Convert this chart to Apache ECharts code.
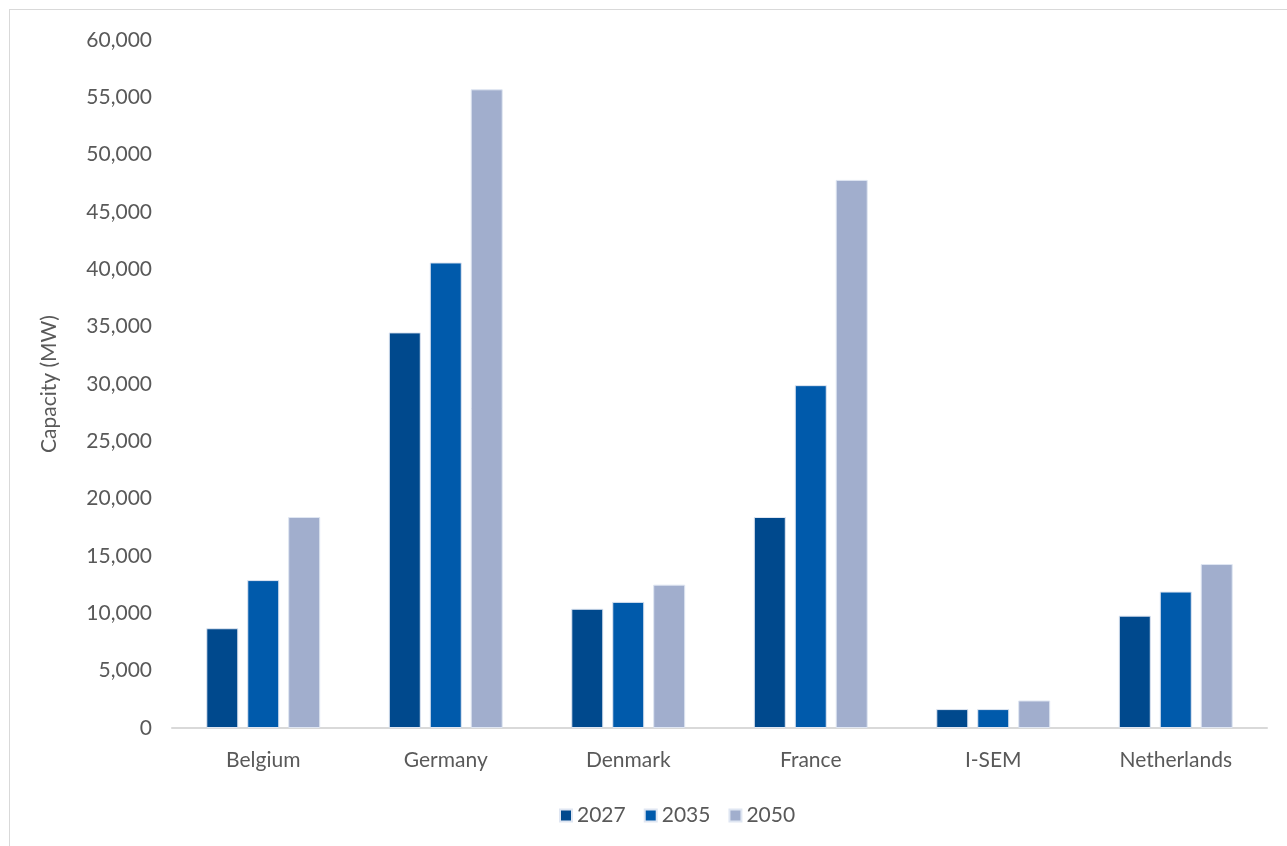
<!DOCTYPE html>
<html>
<head>
<meta charset="utf-8">
<script src="https://cdn.jsdelivr.net/npm/echarts@6/dist/echarts.min.js"></script>
<style>
  html, body { margin: 0; padding: 0; background: #ffffff; }
  #frame { position: absolute; left: 9px; top: 9px; width: 1290px; height: 850px; border: 1px solid #d9d9d9; box-sizing: border-box; }
  #chart { position: absolute; left: 0; top: 0; width: 1287px; height: 846px; }
</style>
</head>
<body>
<div id="frame"></div>
<div id="chart"></div>
<script>
// Installed capacity per market and scenario year (MW)
const countries = ['Belgium', 'Germany', 'Denmark', 'France', 'I-SEM', 'Netherlands'];
const years = ['2027', '2035', '2050'];
const cap2027 = [8700, 34500, 10400, 18400, 1650, 9800];
const cap2035 = [12900, 40600, 11000, 29900, 1650, 11900];
const cap2050 = [18400, 55700, 12500, 47800, 2400, 14300];
const yTicks = [0, 5000, 10000, 15000, 20000, 25000, 30000, 35000, 40000, 45000, 50000, 55000, 60000];

const colors = ['#00498d', '#005aab', '#a1aecd'];
const seriesData = [cap2027, cap2035, cap2050];
const FONT = 'Lato, "Open Sans", sans-serif';
const TEXT_SIZE = 21;

const chart = echarts.init(document.getElementById('chart'), null, { renderer: 'canvas' });
chart.setOption({
  backgroundColor: 'transparent',
  animation: false,
  textStyle: { fontFamily: FONT },
  grid: { left: 172, right: 20, top: 40, bottom: 118 },
  legend: {
    data: years,
    top: 800,
    left: 554,
    itemWidth: 12,
    itemHeight: 12,
    itemGap: 18,
    icon: 'rect',
    textStyle: { color: '#595959', fontSize: TEXT_SIZE, fontFamily: FONT }
  },
  xAxis: {
    type: 'category',
    data: countries,
    axisLine: { lineStyle: { color: '#d9d9d9', width: 2 } },
    axisTick: { show: false },
    axisLabel: { color: '#595959', fontSize: TEXT_SIZE, margin: 22, fontFamily: FONT }
  },
  yAxis: {
    type: 'value',
    min: yTicks[0],
    max: yTicks[yTicks.length - 1],
    interval: yTicks[1] - yTicks[0],
    name: 'Capacity (MW)',
    nameLocation: 'middle',
    nameGap: 112,
    nameTextStyle: { color: '#595959', fontSize: TEXT_SIZE, fontFamily: FONT },
    splitLine: { show: false },
    axisLine: { show: false },
    axisTick: { show: false },
    axisLabel: {
      color: '#595959', fontSize: TEXT_SIZE, margin: 20, fontFamily: FONT,
      formatter: v => v.toLocaleString('en-US')
    }
  },
  series: years.map((y, i) => ({
    name: y,
    type: 'bar',
    data: seriesData[i],
    barWidth: 32,
    barGap: '28%',
    itemStyle: { color: colors[i], borderColor: '#dfe6f2', borderWidth: 1 }
  }))
});
</script>
</body>
</html>
